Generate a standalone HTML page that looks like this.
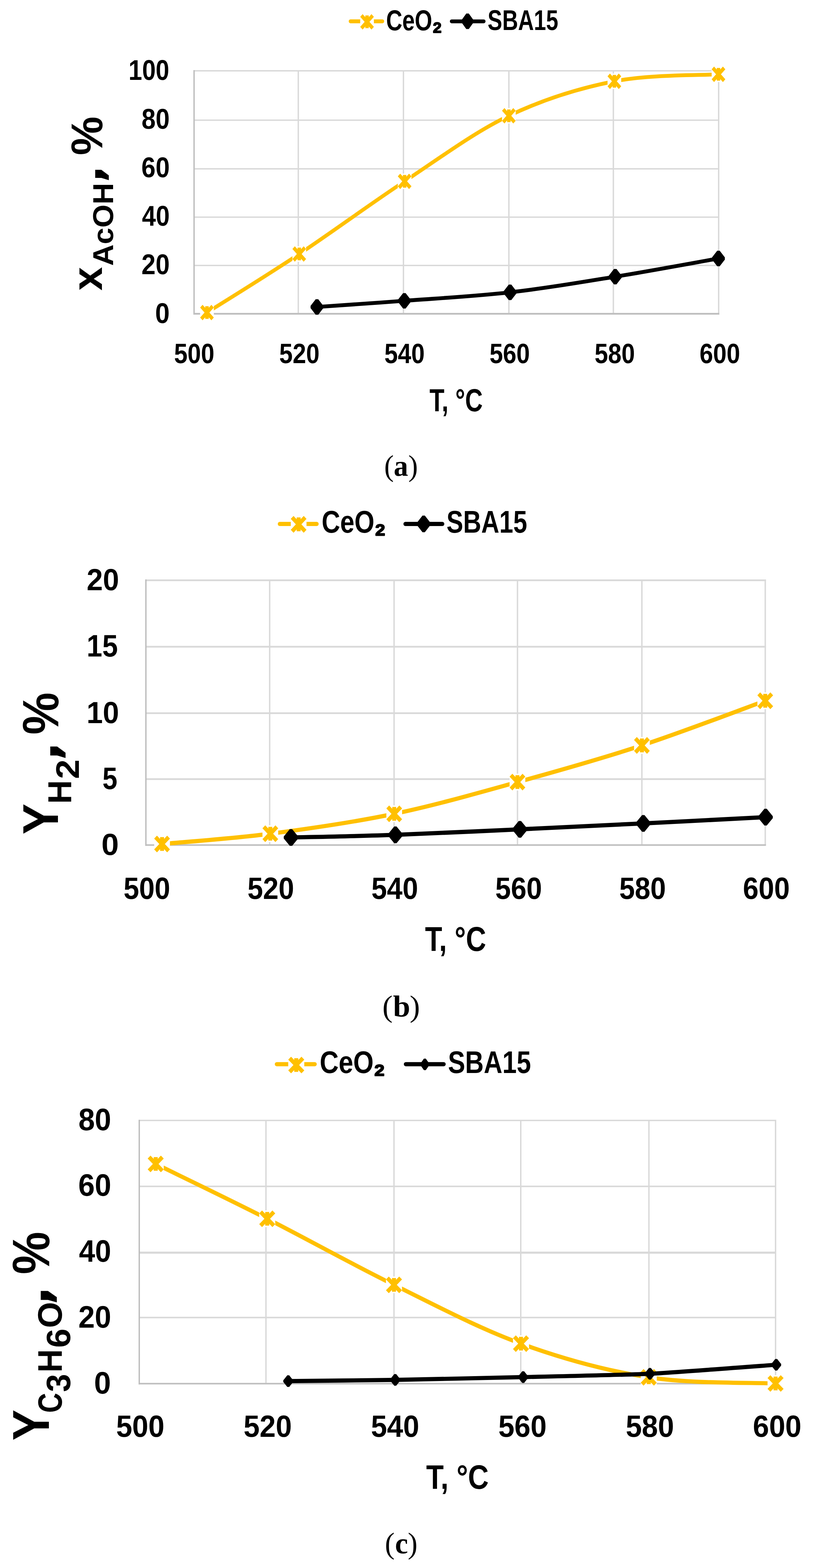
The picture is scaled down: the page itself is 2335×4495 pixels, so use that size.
<!DOCTYPE html>
<html lang="en"><head><meta charset="utf-8"><title>Figure</title>
<style>html,body{margin:0;padding:0;background:#fff}body{width:2335px;height:4495px;overflow:hidden}svg{display:block}</style>
</head><body>
<svg width="2335" height="4495" viewBox="0 0 2335 4495" text-rendering="geometricPrecision">
<g transform="scale(0.885 1)">
<line x1="965.65" y1="201.00" x2="965.65" y2="899.50" stroke="#D9D9D9" stroke-width="4.52" stroke-linecap="butt"/>
<line x1="1306.10" y1="201.00" x2="1306.10" y2="899.50" stroke="#D9D9D9" stroke-width="4.52" stroke-linecap="butt"/>
<line x1="1647.46" y1="201.00" x2="1647.46" y2="899.50" stroke="#D9D9D9" stroke-width="4.52" stroke-linecap="butt"/>
<line x1="1985.65" y1="201.00" x2="1985.65" y2="899.50" stroke="#D9D9D9" stroke-width="4.52" stroke-linecap="butt"/>
<line x1="2326.55" y1="201.00" x2="2326.55" y2="899.50" stroke="#D9D9D9" stroke-width="4.52" stroke-linecap="butt"/>
<line x1="628.25" y1="203.00" x2="2328.81" y2="203.00" stroke="#D9D9D9" stroke-width="4.00" stroke-linecap="butt"/>
<line x1="628.25" y1="344.50" x2="2328.81" y2="344.50" stroke="#D9D9D9" stroke-width="4.00" stroke-linecap="butt"/>
<line x1="628.25" y1="484.00" x2="2328.81" y2="484.00" stroke="#D9D9D9" stroke-width="4.00" stroke-linecap="butt"/>
<line x1="628.25" y1="622.50" x2="2328.81" y2="622.50" stroke="#D9D9D9" stroke-width="4.00" stroke-linecap="butt"/>
<line x1="628.25" y1="761.00" x2="2328.81" y2="761.00" stroke="#D9D9D9" stroke-width="4.00" stroke-linecap="butt"/>
<line x1="628.25" y1="201.00" x2="628.25" y2="902.00" stroke="#BFBFBF" stroke-width="4.52" stroke-linecap="butt"/>
<line x1="625.99" y1="899.50" x2="2328.81" y2="899.50" stroke="#BFBFBF" stroke-width="5.00" stroke-linecap="butt"/>
<path d="M670.06 896.00 C719.85 868.02 862.17 790.80 968.81 728.10 C1075.46 665.40 1196.85 585.83 1309.94 519.80 C1423.03 453.77 1534.18 379.70 1647.34 331.90 C1760.51 284.10 1875.82 252.82 1988.93 233.00 C2102.03 213.18 2269.81 216.33 2325.99 213.00" fill="none" stroke="#FFC000" stroke-width="11.10" stroke-linecap="round" stroke-linejoin="round"/>
<rect x="647.91" y="873.85" width="44.30" height="44.30" fill="#fff"/>
<path d="M651.83 877.77L688.28 914.23M688.28 877.77L651.83 914.23M670.06 877.77L670.06 914.23" fill="none" stroke="#FFC000" stroke-width="11.10" stroke-linecap="butt"/>
<rect x="946.66" y="705.95" width="44.30" height="44.30" fill="#fff"/>
<path d="M950.59 709.87L987.04 746.33M987.04 709.87L950.59 746.33M968.81 709.87L968.81 746.33" fill="none" stroke="#FFC000" stroke-width="11.10" stroke-linecap="butt"/>
<rect x="1287.79" y="497.65" width="44.30" height="44.30" fill="#fff"/>
<path d="M1291.72 501.57L1328.17 538.03M1328.17 501.57L1291.72 538.03M1309.94 501.57L1309.94 538.03" fill="none" stroke="#FFC000" stroke-width="11.10" stroke-linecap="butt"/>
<rect x="1625.19" y="309.75" width="44.30" height="44.30" fill="#fff"/>
<path d="M1629.12 313.67L1665.57 350.13M1665.57 313.67L1629.12 350.13M1647.34 313.67L1647.34 350.13" fill="none" stroke="#FFC000" stroke-width="11.10" stroke-linecap="butt"/>
<rect x="1966.78" y="210.85" width="44.30" height="44.30" fill="#fff"/>
<path d="M1970.70 214.77L2007.15 251.23M2007.15 214.77L1970.70 251.23M1988.93 214.77L1988.93 251.23" fill="none" stroke="#FFC000" stroke-width="11.10" stroke-linecap="butt"/>
<rect x="2303.84" y="190.85" width="44.30" height="44.30" fill="#fff"/>
<path d="M2307.76 194.77L2344.21 231.23M2344.21 194.77L2307.76 231.23M2325.99 194.77L2325.99 231.23" fill="none" stroke="#FFC000" stroke-width="11.10" stroke-linecap="butt"/>
<path d="M1026.10 880.00 C1073.26 877.05 1204.86 869.30 1309.04 862.30 C1413.22 855.30 1537.42 849.52 1651.19 838.00 C1764.95 826.48 1879.19 809.37 1991.64 793.20 C2104.09 777.03 2270.17 749.70 2325.88 741.00" fill="none" stroke="#000" stroke-width="11.10" stroke-linecap="round" stroke-linejoin="round"/>
<path d="M1022.03 857.85L1030.17 857.85L1046.78 876.80L1046.78 883.20L1030.17 902.15L1022.03 902.15L1005.42 883.20L1005.42 876.80Z" fill="#000"/>
<path d="M1304.97 840.15L1313.11 840.15L1329.72 859.10L1329.72 865.50L1313.11 884.45L1304.97 884.45L1288.36 865.50L1288.36 859.10Z" fill="#000"/>
<path d="M1647.12 815.85L1655.25 815.85L1671.86 834.80L1671.86 841.20L1655.25 860.15L1647.12 860.15L1630.51 841.20L1630.51 834.80Z" fill="#000"/>
<path d="M1987.57 771.05L1995.71 771.05L2012.32 790.00L2012.32 796.40L1995.71 815.35L1987.57 815.35L1970.96 796.40L1970.96 790.00Z" fill="#000"/>
<path d="M2321.81 718.85L2329.94 718.85L2346.55 737.80L2346.55 744.20L2329.94 763.15L2321.81 763.15L2305.20 744.20L2305.20 737.80Z" fill="#000"/>
<line x1="1134.48" y1="61.10" x2="1238.18" y2="61.10" stroke="#FFC000" stroke-width="11.10" stroke-linecap="round"/>
<rect x="1166.10" y="40.45" width="44.30" height="44.30" fill="#fff"/>
<path d="M1170.02 44.37L1206.47 80.83M1206.47 44.37L1170.02 80.83M1188.25 44.37L1188.25 80.83" fill="none" stroke="#FFC000" stroke-width="11.10" stroke-linecap="butt"/>
<line x1="1461.93" y1="61.20" x2="1566.20" y2="61.20" stroke="#000" stroke-width="11.10" stroke-linecap="round"/>
<path d="M1509.49 38.80L1517.63 38.80L1533.05 57.80L1533.05 64.20L1517.63 83.20L1509.49 83.20L1494.07 64.20L1494.07 57.80Z" fill="#000"/>
</g>
<text transform="matrix(0.7003 0 0 0.8198 368.22 229.08)" font-family='"Liberation Sans", sans-serif' font-weight="bold" font-size="100" fill="#000">100</text>
<text transform="matrix(0.7267 0 0 0.8198 405.44 369.18)" font-family='"Liberation Sans", sans-serif' font-weight="bold" font-size="100" fill="#000">80</text>
<text transform="matrix(0.7303 0 0 0.8198 405.06 508.48)" font-family='"Liberation Sans", sans-serif' font-weight="bold" font-size="100" fill="#000">60</text>
<text transform="matrix(0.7147 0 0 0.8198 406.73 647.48)" font-family='"Liberation Sans", sans-serif' font-weight="bold" font-size="100" fill="#000">40</text>
<text transform="matrix(0.7285 0 0 0.8198 405.25 786.48)" font-family='"Liberation Sans", sans-serif' font-weight="bold" font-size="100" fill="#000">20</text>
<text transform="matrix(0.7495 0 0 0.8198 444.60 925.78)" font-family='"Liberation Sans", sans-serif' font-weight="bold" font-size="100" fill="#000">0</text>
<text transform="matrix(0.6923 0 0 0.8028 498.82 1041.20)" font-family='"Liberation Sans", sans-serif' font-weight="bold" font-size="100" fill="#000">500</text>
<text transform="matrix(0.6923 0 0 0.8028 800.02 1041.20)" font-family='"Liberation Sans", sans-serif' font-weight="bold" font-size="100" fill="#000">520</text>
<text transform="matrix(0.6923 0 0 0.8028 1101.22 1041.20)" font-family='"Liberation Sans", sans-serif' font-weight="bold" font-size="100" fill="#000">540</text>
<text transform="matrix(0.6923 0 0 0.8028 1402.42 1041.20)" font-family='"Liberation Sans", sans-serif' font-weight="bold" font-size="100" fill="#000">560</text>
<text transform="matrix(0.6923 0 0 0.8028 1703.62 1041.20)" font-family='"Liberation Sans", sans-serif' font-weight="bold" font-size="100" fill="#000">580</text>
<text transform="matrix(0.6956 0 0 0.8028 2004.29 1041.20)" font-family='"Liberation Sans", sans-serif' font-weight="bold" font-size="100" fill="#000">600</text>
<text transform="matrix(0.7005 0 0 0.9164 1230.50 1178.90)" font-family='"Liberation Sans", sans-serif' font-weight="bold" font-size="100" fill="#000">T, °C</text>
<text transform="matrix(0.6426 0 0 0.8297 1106.13 86.57)" font-family='"Liberation Sans", sans-serif' font-weight="bold" font-size="100" fill="#000">CeO<tspan dy="5" stroke="#000" stroke-width="3.5" stroke-linejoin="round">₂</tspan></text>
<text transform="matrix(0.6278 0 0 0.8184 1397.02 85.98)" font-family='"Liberation Sans", sans-serif' font-weight="bold" font-size="100" fill="#000">SBA15</text>
<text transform="matrix(0 -1.2167 1.2190 0 292.10 833.01)" font-family='"Liberation Sans", sans-serif' font-weight="bold" font-size="100" fill="#000">x</text>
<text transform="matrix(0 -0.8566 0.8240 0 324.18 762.14)" font-family='"Liberation Sans", sans-serif' font-weight="bold" font-size="100" fill="#000">AcOH</text>
<text transform="matrix(0 -1.3200 1.1758 0 295.04 523.43)" font-family='"DejaVu Sans", "Liberation Sans", sans-serif' font-weight="bold" font-size="100" fill="#000">,</text>
<text transform="matrix(0 -1.2490 1.2754 0 292.64 445.12)" font-family='"Liberation Sans", sans-serif' font-weight="bold" font-size="100" fill="#000">%</text>
<text transform="matrix(0.8265 0 0 0.8540 0 1364.05)" font-family='"Liberation Serif", serif' font-size="100" fill="#000"><tspan x="1331.96">(</tspan><tspan x="1364.90" font-weight="bold">a</tspan><tspan x="1415.42">)</tspan></text>
<g transform="scale(0.936 1)">
<line x1="825.43" y1="1661.00" x2="825.43" y2="2422.50" stroke="#D9D9D9" stroke-width="4.27" stroke-linecap="butt"/>
<line x1="1206.20" y1="1661.00" x2="1206.20" y2="2422.50" stroke="#D9D9D9" stroke-width="4.27" stroke-linecap="butt"/>
<line x1="1583.97" y1="1661.00" x2="1583.97" y2="2422.50" stroke="#D9D9D9" stroke-width="4.27" stroke-linecap="butt"/>
<line x1="1964.74" y1="1661.00" x2="1964.74" y2="2422.50" stroke="#D9D9D9" stroke-width="4.27" stroke-linecap="butt"/>
<line x1="2342.41" y1="1661.00" x2="2342.41" y2="2422.50" stroke="#D9D9D9" stroke-width="4.27" stroke-linecap="butt"/>
<line x1="446.58" y1="1663.50" x2="2344.55" y2="1663.50" stroke="#D9D9D9" stroke-width="5.00" stroke-linecap="butt"/>
<line x1="446.58" y1="1854.00" x2="2344.55" y2="1854.00" stroke="#D9D9D9" stroke-width="5.00" stroke-linecap="butt"/>
<line x1="446.58" y1="2044.50" x2="2344.55" y2="2044.50" stroke="#D9D9D9" stroke-width="5.00" stroke-linecap="butt"/>
<line x1="446.58" y1="2233.50" x2="2344.55" y2="2233.50" stroke="#D9D9D9" stroke-width="5.00" stroke-linecap="butt"/>
<line x1="446.58" y1="1661.00" x2="446.58" y2="2424.80" stroke="#BFBFBF" stroke-width="4.27" stroke-linecap="butt"/>
<line x1="444.44" y1="2422.50" x2="2344.55" y2="2422.50" stroke="#BFBFBF" stroke-width="4.60" stroke-linecap="butt"/>
<path d="M496.05 2419.50 C551.28 2414.58 709.01 2404.42 827.46 2390.00 C945.90 2375.58 1080.66 2357.67 1206.73 2333.00 C1332.80 2308.33 1457.51 2274.70 1583.87 2242.00 C1710.22 2209.30 1838.43 2175.65 1964.85 2136.80 C2091.27 2097.95 2279.49 2030.22 2342.41 2008.90" fill="none" stroke="#FFC000" stroke-width="12.05" stroke-linecap="round" stroke-linejoin="round"/>
<rect x="471.95" y="2395.40" width="48.20" height="48.20" fill="#fff"/>
<path d="M476.21 2399.66L515.89 2439.34M515.89 2399.66L476.21 2439.34M496.05 2399.66L496.05 2439.34" fill="none" stroke="#FFC000" stroke-width="12.05" stroke-linecap="butt"/>
<rect x="803.36" y="2365.90" width="48.20" height="48.20" fill="#fff"/>
<path d="M807.62 2370.16L847.30 2409.84M847.30 2370.16L807.62 2409.84M827.46 2370.16L827.46 2409.84" fill="none" stroke="#FFC000" stroke-width="12.05" stroke-linecap="butt"/>
<rect x="1182.63" y="2308.90" width="48.20" height="48.20" fill="#fff"/>
<path d="M1186.89 2313.16L1226.57 2352.84M1226.57 2313.16L1186.89 2352.84M1206.73 2313.16L1206.73 2352.84" fill="none" stroke="#FFC000" stroke-width="12.05" stroke-linecap="butt"/>
<rect x="1559.77" y="2217.90" width="48.20" height="48.20" fill="#fff"/>
<path d="M1564.03 2222.16L1603.71 2261.84M1603.71 2222.16L1564.03 2261.84M1583.87 2222.16L1583.87 2261.84" fill="none" stroke="#FFC000" stroke-width="12.05" stroke-linecap="butt"/>
<rect x="1940.75" y="2112.70" width="48.20" height="48.20" fill="#fff"/>
<path d="M1945.01 2116.96L1984.69 2156.64M1984.69 2116.96L1945.01 2156.64M1964.85 2116.96L1964.85 2156.64" fill="none" stroke="#FFC000" stroke-width="12.05" stroke-linecap="butt"/>
<rect x="2318.31" y="1984.80" width="48.20" height="48.20" fill="#fff"/>
<path d="M2322.57 1989.06L2362.25 2028.74M2362.25 1989.06L2322.57 2028.74M2342.41 1989.06L2342.41 2028.74" fill="none" stroke="#FFC000" stroke-width="12.05" stroke-linecap="butt"/>
<path d="M890.60 2400.80 C943.87 2399.55 1093.47 2397.20 1210.26 2393.30 C1327.05 2389.40 1464.89 2382.88 1591.35 2377.40 C1717.81 2371.92 1843.68 2366.20 1969.02 2360.40 C2094.36 2354.60 2280.98 2345.57 2343.38 2342.60" fill="none" stroke="#000" stroke-width="12.05" stroke-linecap="round" stroke-linejoin="round"/>
<path d="M887.02 2376.80L894.18 2376.80L912.66 2397.90L912.66 2403.70L894.18 2424.80L887.02 2424.80L868.54 2403.70L868.54 2397.90Z" fill="#000"/>
<path d="M1206.68 2369.30L1213.84 2369.30L1232.32 2390.40L1232.32 2396.20L1213.84 2417.30L1206.68 2417.30L1188.19 2396.20L1188.19 2390.40Z" fill="#000"/>
<path d="M1587.77 2353.40L1594.93 2353.40L1613.41 2374.50L1613.41 2380.30L1594.93 2401.40L1587.77 2401.40L1569.28 2380.30L1569.28 2374.50Z" fill="#000"/>
<path d="M1965.44 2336.40L1972.60 2336.40L1991.08 2357.50L1991.08 2363.30L1972.60 2384.40L1965.44 2384.40L1946.96 2363.30L1946.96 2357.50Z" fill="#000"/>
<path d="M2339.80 2318.60L2346.96 2318.60L2365.44 2339.70L2365.44 2345.50L2346.96 2366.60L2339.80 2366.60L2321.31 2345.50L2321.31 2339.70Z" fill="#000"/>
<line x1="856.24" y1="1502.00" x2="969.40" y2="1502.00" stroke="#FFC000" stroke-width="12.05" stroke-linecap="round"/>
<rect x="890.00" y="1479.10" width="48.20" height="48.20" fill="#fff"/>
<path d="M894.26 1483.36L933.94 1523.04M933.94 1483.36L894.26 1523.04M914.10 1483.36L914.10 1523.04" fill="none" stroke="#FFC000" stroke-width="12.05" stroke-linecap="butt"/>
<line x1="1240.85" y1="1502.00" x2="1354.02" y2="1502.00" stroke="#000" stroke-width="12.05" stroke-linecap="round"/>
<path d="M1293.22 1478.00L1300.37 1478.00L1317.90 1499.00L1317.90 1504.80L1300.37 1525.80L1293.22 1525.80L1275.69 1504.80L1275.69 1499.00Z" fill="#000"/>
</g>
<text transform="matrix(0.8348 0 0 0.8763 248.28 1691.92)" font-family='"Liberation Sans", sans-serif' font-weight="bold" font-size="100" fill="#000">20</text>
<text transform="matrix(0.8039 0 0 0.8889 248.18 1882.41)" font-family='"Liberation Sans", sans-serif' font-weight="bold" font-size="100" fill="#000">15</text>
<text transform="matrix(0.8377 0 0 0.8763 247.96 2072.92)" font-family='"Liberation Sans", sans-serif' font-weight="bold" font-size="100" fill="#000">10</text>
<text transform="matrix(0.7698 0 0 0.8889 293.59 2261.91)" font-family='"Liberation Sans", sans-serif' font-weight="bold" font-size="100" fill="#000">5</text>
<text transform="matrix(0.8989 0 0 0.8763 290.60 2450.92)" font-family='"Liberation Sans", sans-serif' font-weight="bold" font-size="100" fill="#000">0</text>
<text transform="matrix(0.8013 0 0 0.8848 353.90 2577.12)" font-family='"Liberation Sans", sans-serif' font-weight="bold" font-size="100" fill="#000">500</text>
<text transform="matrix(0.8013 0 0 0.8848 708.96 2577.12)" font-family='"Liberation Sans", sans-serif' font-weight="bold" font-size="100" fill="#000">520</text>
<text transform="matrix(0.8013 0 0 0.8848 1064.02 2577.12)" font-family='"Liberation Sans", sans-serif' font-weight="bold" font-size="100" fill="#000">540</text>
<text transform="matrix(0.8013 0 0 0.8848 1419.08 2577.12)" font-family='"Liberation Sans", sans-serif' font-weight="bold" font-size="100" fill="#000">560</text>
<text transform="matrix(0.8013 0 0 0.8848 1774.14 2577.12)" font-family='"Liberation Sans", sans-serif' font-weight="bold" font-size="100" fill="#000">580</text>
<text transform="matrix(0.8050 0 0 0.8848 2128.58 2577.12)" font-family='"Liberation Sans", sans-serif' font-weight="bold" font-size="100" fill="#000">600</text>
<text transform="matrix(0.8037 0 0 0.9891 1217.70 2726.00)" font-family='"Liberation Sans", sans-serif' font-weight="bold" font-size="100" fill="#000">T, °C</text>
<text transform="matrix(0.7352 0 0 0.9004 921.46 1527.30)" font-family='"Liberation Sans", sans-serif' font-weight="bold" font-size="100" fill="#000">CeO<tspan dy="5" stroke="#000" stroke-width="3.5" stroke-linejoin="round">₂</tspan></text>
<text transform="matrix(0.7169 0 0 0.9004 1279.25 1527.30)" font-family='"Liberation Sans", sans-serif' font-weight="bold" font-size="100" fill="#000">SBA15</text>
<text transform="matrix(0 -1.3281 1.4400 0 166.30 2392.32)" font-family='"Liberation Sans", sans-serif' font-weight="bold" font-size="100" fill="#000">Y</text>
<text transform="matrix(0 -0.9396 0.9513 0 203.70 2304.34)" font-family='"Liberation Sans", sans-serif' font-weight="bold" font-size="100" fill="#000">H</text>
<text transform="matrix(0 -1.0146 0.9362 0 226.00 2233.25)" font-family='"Liberation Sans", sans-serif' font-weight="bold" font-size="100" fill="#000">2</text>
<text transform="matrix(0 -1.4667 1.3212 0 169.00 2180.70)" font-family='"DejaVu Sans", "Liberation Sans", sans-serif' font-weight="bold" font-size="100" fill="#000">,</text>
<text transform="matrix(0 -1.3612 1.4633 0 167.10 2106.00)" font-family='"Liberation Sans", sans-serif' font-weight="bold" font-size="100" fill="#000">%</text>
<text transform="matrix(0.8856 0 0 0.8683 0 2913.95)" font-family='"Liberation Serif", serif' font-size="100" fill="#000"><tspan x="1237.02">(</tspan><tspan x="1271.37" font-weight="bold">b</tspan><tspan x="1325.38">)</tspan></text>
<g transform="scale(0.964 1)">
<line x1="790.46" y1="3210.00" x2="790.46" y2="3966.50" stroke="#D9D9D9" stroke-width="4.15" stroke-linecap="butt"/>
<line x1="1170.95" y1="3210.00" x2="1170.95" y2="3966.50" stroke="#D9D9D9" stroke-width="4.15" stroke-linecap="butt"/>
<line x1="1547.72" y1="3210.00" x2="1547.72" y2="3966.50" stroke="#D9D9D9" stroke-width="4.15" stroke-linecap="butt"/>
<line x1="1928.63" y1="3210.00" x2="1928.63" y2="3966.50" stroke="#D9D9D9" stroke-width="4.15" stroke-linecap="butt"/>
<line x1="2304.98" y1="3210.00" x2="2304.98" y2="3966.50" stroke="#D9D9D9" stroke-width="4.15" stroke-linecap="butt"/>
<line x1="413.90" y1="3212.00" x2="2307.05" y2="3212.00" stroke="#D9D9D9" stroke-width="4.00" stroke-linecap="butt"/>
<line x1="413.90" y1="3401.00" x2="2307.05" y2="3401.00" stroke="#D9D9D9" stroke-width="4.50" stroke-linecap="butt"/>
<line x1="413.90" y1="3591.00" x2="2307.05" y2="3591.00" stroke="#D9D9D9" stroke-width="6.00" stroke-linecap="butt"/>
<line x1="413.90" y1="3777.00" x2="2307.05" y2="3777.00" stroke="#D9D9D9" stroke-width="4.50" stroke-linecap="butt"/>
<line x1="413.90" y1="3210.00" x2="413.90" y2="3968.80" stroke="#BFBFBF" stroke-width="4.15" stroke-linecap="butt"/>
<line x1="411.83" y1="3966.50" x2="2307.05" y2="3966.50" stroke="#BFBFBF" stroke-width="4.60" stroke-linecap="butt"/>
<path d="M462.76 3336.70 C518.00 3362.90 676.16 3436.13 794.19 3493.90 C912.22 3551.67 1045.25 3623.65 1170.95 3683.30 C1296.66 3742.95 1422.25 3807.62 1548.44 3851.80 C1674.64 3895.98 1802.02 3929.37 1928.11 3948.40 C2054.20 3967.43 2242.17 3963.07 2304.98 3966.00" fill="none" stroke="#FFC000" stroke-width="11.90" stroke-linecap="round" stroke-linejoin="round"/>
<rect x="438.91" y="3312.85" width="47.70" height="47.70" fill="#fff"/>
<path d="M443.12 3317.06L482.40 3356.34M482.40 3317.06L443.12 3356.34M462.76 3317.06L462.76 3356.34" fill="none" stroke="#FFC000" stroke-width="11.90" stroke-linecap="butt"/>
<rect x="770.34" y="3470.05" width="47.70" height="47.70" fill="#fff"/>
<path d="M774.55 3474.26L813.83 3513.54M813.83 3474.26L774.55 3513.54M794.19 3474.26L794.19 3513.54" fill="none" stroke="#FFC000" stroke-width="11.90" stroke-linecap="butt"/>
<rect x="1147.10" y="3659.45" width="47.70" height="47.70" fill="#fff"/>
<path d="M1151.31 3663.66L1190.60 3702.94M1190.60 3663.66L1151.31 3702.94M1170.95 3663.66L1170.95 3702.94" fill="none" stroke="#FFC000" stroke-width="11.90" stroke-linecap="butt"/>
<rect x="1524.59" y="3827.95" width="47.70" height="47.70" fill="#fff"/>
<path d="M1528.80 3832.16L1568.09 3871.44M1568.09 3832.16L1528.80 3871.44M1548.44 3832.16L1548.44 3871.44" fill="none" stroke="#FFC000" stroke-width="11.90" stroke-linecap="butt"/>
<rect x="1904.26" y="3924.55" width="47.70" height="47.70" fill="#fff"/>
<path d="M1908.47 3928.76L1947.75 3968.04M1947.75 3928.76L1908.47 3968.04M1928.11 3928.76L1928.11 3968.04" fill="none" stroke="#FFC000" stroke-width="11.90" stroke-linecap="butt"/>
<rect x="2281.13" y="3942.15" width="47.70" height="47.70" fill="#fff"/>
<path d="M2285.34 3946.36L2324.62 3985.64M2324.62 3946.36L2285.34 3985.64M2304.98 3946.36L2304.98 3985.64" fill="none" stroke="#FFC000" stroke-width="11.90" stroke-linecap="butt"/>
<path d="M856.64 3959.20 C882.07 3958.92 1118.73 3956.61 1174.59 3955.70 C1230.44 3954.79 1494.32 3949.20 1554.88 3947.80 C1615.43 3946.40 1871.38 3941.03 1931.54 3938.20 C1991.69 3935.37 2276.82 3914.46 2306.85 3912.40" fill="none" stroke="#000" stroke-width="11.90" stroke-linecap="round" stroke-linejoin="round"/>
<path d="M853.84 3942.50L859.44 3942.50L871.37 3956.95L871.37 3961.45L859.44 3975.90L853.84 3975.90L841.91 3961.45L841.91 3956.95Z" fill="#000"/>
<path d="M1171.78 3939.00L1177.39 3939.00L1189.32 3953.45L1189.32 3957.95L1177.39 3972.40L1171.78 3972.40L1159.85 3957.95L1159.85 3953.45Z" fill="#000"/>
<path d="M1552.07 3931.10L1557.68 3931.10L1569.61 3945.55L1569.61 3950.05L1557.68 3964.50L1552.07 3964.50L1540.15 3950.05L1540.15 3945.55Z" fill="#000"/>
<path d="M1928.73 3921.50L1934.34 3921.50L1946.27 3935.95L1946.27 3940.45L1934.34 3954.90L1928.73 3954.90L1916.80 3940.45L1916.80 3935.95Z" fill="#000"/>
<path d="M2304.05 3895.70L2309.65 3895.70L2321.58 3910.15L2321.58 3914.65L2309.65 3929.10L2304.05 3929.10L2292.12 3914.65L2292.12 3910.15Z" fill="#000"/>
<line x1="822.65" y1="3050.70" x2="935.44" y2="3050.70" stroke="#FFC000" stroke-width="11.90" stroke-linecap="round"/>
<rect x="856.65" y="3029.25" width="47.70" height="47.70" fill="#fff"/>
<path d="M860.86 3033.46L900.14 3072.74M900.14 3033.46L860.86 3072.74M880.50 3033.46L880.50 3072.74" fill="none" stroke="#FFC000" stroke-width="11.90" stroke-linecap="butt"/>
<line x1="1206.16" y1="3050.70" x2="1318.64" y2="3050.70" stroke="#000" stroke-width="11.90" stroke-linecap="round"/>
<path d="M1259.85 3034.80L1265.46 3034.80L1276.40 3049.80L1276.40 3052.80L1265.46 3067.80L1259.85 3067.80L1248.91 3052.80L1248.91 3049.80Z" fill="#000"/>
</g>
<text transform="matrix(0.8443 0 0 0.8905 224.66 3239.81)" font-family='"Liberation Sans", sans-serif' font-weight="bold" font-size="100" fill="#000">80</text>
<text transform="matrix(0.8484 0 0 0.8905 224.22 3428.11)" font-family='"Liberation Sans", sans-serif' font-weight="bold" font-size="100" fill="#000">60</text>
<text transform="matrix(0.8303 0 0 0.8905 226.15 3617.11)" font-family='"Liberation Sans", sans-serif' font-weight="bold" font-size="100" fill="#000">40</text>
<text transform="matrix(0.8464 0 0 0.8905 224.44 3806.01)" font-family='"Liberation Sans", sans-serif' font-weight="bold" font-size="100" fill="#000">20</text>
<text transform="matrix(0.8695 0 0 0.8905 269.42 3994.81)" font-family='"Liberation Sans", sans-serif' font-weight="bold" font-size="100" fill="#000">0</text>
<text transform="matrix(0.8300 0 0 0.8820 332.71 4119.12)" font-family='"Liberation Sans", sans-serif' font-weight="bold" font-size="100" fill="#000">500</text>
<text transform="matrix(0.8300 0 0 0.8820 697.71 4119.12)" font-family='"Liberation Sans", sans-serif' font-weight="bold" font-size="100" fill="#000">520</text>
<text transform="matrix(0.8300 0 0 0.8820 1062.71 4119.12)" font-family='"Liberation Sans", sans-serif' font-weight="bold" font-size="100" fill="#000">540</text>
<text transform="matrix(0.8300 0 0 0.8820 1427.71 4119.12)" font-family='"Liberation Sans", sans-serif' font-weight="bold" font-size="100" fill="#000">560</text>
<text transform="matrix(0.8300 0 0 0.8820 1792.71 4119.12)" font-family='"Liberation Sans", sans-serif' font-weight="bold" font-size="100" fill="#000">580</text>
<text transform="matrix(0.8340 0 0 0.8820 2157.07 4119.12)" font-family='"Liberation Sans", sans-serif' font-weight="bold" font-size="100" fill="#000">600</text>
<text transform="matrix(0.8234 0 0 0.9760 1220.98 4267.60)" font-family='"Liberation Sans", sans-serif' font-weight="bold" font-size="100" fill="#000">T, °C</text>
<text transform="matrix(0.7510 0 0 0.8961 915.90 3076.40)" font-family='"Liberation Sans", sans-serif' font-weight="bold" font-size="100" fill="#000">CeO<tspan dy="5" stroke="#000" stroke-width="3.5" stroke-linejoin="round">₂</tspan></text>
<text transform="matrix(0.7378 0 0 0.8961 1283.39 3076.40)" font-family='"Liberation Sans", sans-serif' font-weight="bold" font-size="100" fill="#000">SBA15</text>
<text transform="matrix(0 -1.3328 1.4851 0 140.00 4129.83)" font-family='"Liberation Sans", sans-serif' font-weight="bold" font-size="100" fill="#000">Y</text>
<text transform="matrix(0 -0.7939 0.9710 0 177.03 4050.18)" font-family='"Liberation Sans", sans-serif' font-weight="bold" font-size="100" fill="#000">C</text>
<text transform="matrix(0 -0.9327 0.9704 0 200.59 3990.50)" font-family='"Liberation Sans", sans-serif' font-weight="bold" font-size="100" fill="#000">3</text>
<text transform="matrix(0 -0.9260 0.9789 0 177.10 3934.45)" font-family='"Liberation Sans", sans-serif' font-weight="bold" font-size="100" fill="#000">H</text>
<text transform="matrix(0 -0.9927 0.9654 0 201.13 3863.72)" font-family='"Liberation Sans", sans-serif' font-weight="bold" font-size="100" fill="#000">6</text>
<text transform="matrix(0 -0.9626 0.9781 0 177.02 3807.05)" font-family='"Liberation Sans", sans-serif' font-weight="bold" font-size="100" fill="#000">O</text>
<text transform="matrix(0 -1.4533 1.3909 0 143.43 3741.23)" font-family='"DejaVu Sans", "Liberation Sans", sans-serif' font-weight="bold" font-size="100" fill="#000">,</text>
<text transform="matrix(0 -1.3767 1.5089 0 140.57 3653.34)" font-family='"Liberation Sans", sans-serif' font-weight="bold" font-size="100" fill="#000">%</text>
<text transform="matrix(0.8390 0 0 0.8595 0 4452.84)" font-family='"Liberation Serif", serif' font-size="100" fill="#000"><tspan x="1314.40">(</tspan><tspan x="1348.89" font-weight="bold">c</tspan><tspan x="1392.34">)</tspan></text>
</svg>
</body></html>
